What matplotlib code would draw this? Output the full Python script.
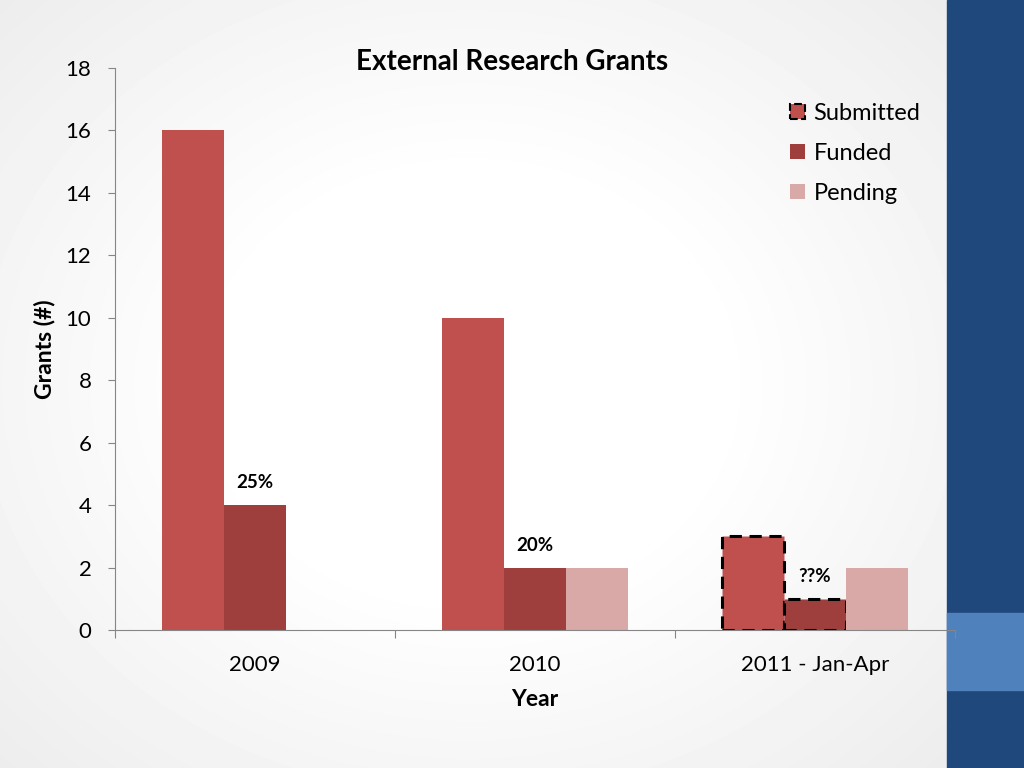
import numpy as np
import matplotlib
matplotlib.use('Agg')
import matplotlib.pyplot as plt
from matplotlib.patches import Patch, Rectangle

plt.rcParams['font.family'] = ['Lato', 'DejaVu Sans']

years = ['2009', '2010', '2011 - Jan-Apr']
submitted = [16, 10, 3]
funded = [4, 2, 1]
pending = [0, 2, 2]
rates = ['25%', '20%', '??%']

c_sub = '#C0504D'
c_fun = '#9E3F3D'
c_pen = '#D9A9A8'
axis_grey = '#868686'

fig = plt.figure(figsize=(10.24, 7.68), dpi=100)

# slide background: soft radial gradient
bg = fig.add_axes([0, 0, 1, 1])
yy, xx = np.mgrid[0:768, 0:1024]
d = np.sqrt(((xx - 470) / 620.0) ** 2 + ((yy - 384) / 520.0) ** 2)
shade = 1.0 - 0.11 * np.clip(d - 0.4, 0, 1)
bg.imshow(shade, cmap='gray', vmin=0, vmax=1, extent=[0, 1024, 768, 0], aspect='auto')
bg.add_patch(Rectangle((947, 0), 77, 768, color='#1F497D'))
bg.add_patch(Rectangle((947, 613), 77, 77, color='#4F81BD'))
bg.set_xlim(0, 1024)
bg.set_ylim(768, 0)
bg.axis('off')

ax = fig.add_axes([0.1123, 0.1797, 0.8203, 0.7318])
ax.patch.set_alpha(0)

x = np.arange(len(years))
w = 0.2214
b1 = ax.bar(x - w, submitted, w, color=c_sub, label='Submitted')
b2 = ax.bar(x, funded, w, color=c_fun, label='Funded')
b3 = ax.bar(x + w, pending, w, color=c_pen, label='Pending')

for bars in (b1, b2):
    bars[2].set_edgecolor('black')
    bars[2].set_linestyle((0, (4, 2.5)))
    bars[2].set_linewidth(2.2)

for i, r in enumerate(rates):
    ax.text(x[i], funded[i] + 0.72, r, ha='center', va='center',
            fontsize=13.5, fontweight='bold')

ax.set_xlim(-0.5, 2.5)
ax.set_ylim(0, 18)
ax.set_yticks(range(0, 19, 2))
ax.tick_params(axis='y', labelsize=16, length=5, color=axis_grey, pad=12)
ax.set_xticks([-0.5, 0.5, 1.5, 2.5])
ax.set_xticklabels([])
ax.set_xticks(x, minor=True)
ax.set_xticklabels(years, minor=True)
ax.tick_params(axis='x', which='major', length=6, color=axis_grey)
ax.tick_params(axis='x', which='minor', length=0, labelsize=16, pad=18)

for s in ('top', 'right'):
    ax.spines[s].set_visible(False)
for s in ('left', 'bottom'):
    ax.spines[s].set_color(axis_grey)

ax.set_ylabel('Grants (#)', fontsize=16.5, fontweight='bold', labelpad=7)
ax.set_xlabel('Year', fontsize=16.5, fontweight='bold', labelpad=10)

fig.text(0.5, 0.919, 'External Research Grants', ha='center', va='center',
         fontsize=20, fontweight='bold')

handles = [Patch(facecolor=c_sub, edgecolor='black', linestyle='--', linewidth=1.5, label='Submitted'),
           Patch(facecolor=c_fun, label='Funded'),
           Patch(facecolor=c_pen, label='Pending')]
ax.legend(handles=handles, loc='upper left', bbox_to_anchor=(0.7715, 0.866),
          bbox_transform=fig.transFigure, borderaxespad=0, borderpad=0,
          frameon=False, fontsize=17, handlelength=0.65, handleheight=0.65,
          handletextpad=0.35, labelspacing=0.8)

fig.savefig('out.png', dpi=100)
